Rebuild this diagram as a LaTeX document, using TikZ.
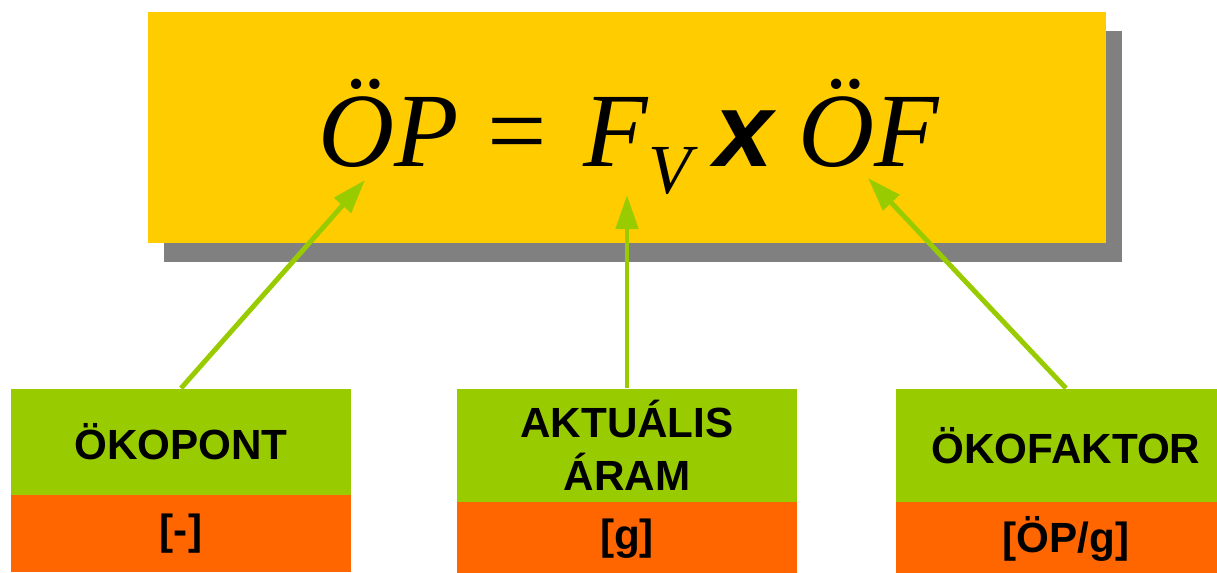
\documentclass[tikz,border=0pt]{standalone}
\usepackage{fontspec}
\setmainfont{Liberation Sans}
\newfontfamily\eqfont{Liberation Serif}
\usetikzlibrary{arrows.meta,positioning}
\definecolor{ecoyellow}{HTML}{FFCC00}
\definecolor{ecogreen}{HTML}{99CC00}
\definecolor{ecoorange}{HTML}{FF6600}
\definecolor{ecoshadow}{HTML}{808080}

\begin{document}
\begin{tikzpicture}[
x=0.01cm,
y=-0.01cm,
every node/.style={inner sep=0pt},
formulabox/.style={rectangle,fill=ecoyellow,minimum width=9.58cm,minimum height=2.31cm},
eqsym/.style={anchor=base west,font=\eqfont\itshape\fontsize{30}{30}\selectfont},
eqop/.style={anchor=base west,font=\eqfont\fontsize{30}{30}\selectfont},
eqtimes/.style={anchor=base west,font=\bfseries\itshape\fontsize{30}{30}\selectfont},
namebox/.style={rectangle,fill=ecogreen,align=center,minimum width=3.40cm,font=\bfseries\fontsize{12}{15}\selectfont},
unitbox/.style={rectangle,fill=ecoorange,align=center,minimum width=3.40cm,font=\bfseries\fontsize{12}{15}\selectfont},
pointer/.style={draw=ecogreen,line width=1.4pt,-{Triangle[length=0.34cm,width=0.22cm]}}
]
\useasboundingbox (0,0) rectangle (1217,573);

% formula panel with its shadow
\node[formulabox,fill=ecoshadow] (mainshadow) at (643,146.5) {};
\node[formulabox] (main) at (627,127.5) {};

\node[eqsym] (op) at (318,167) {ÖP};
\node[eqop] (eq) at (487,167) {=};
\node[eqsym] (fv) at (583,167) {F\raisebox{-0.26cm}{\fontsize{20}{20}\selectfont V}};
\node[eqtimes] (times) at (714,167) {x};
\node[eqsym] (of) at (798,167) {ÖF};

\coordinate (opTip) at (365,180);
\coordinate (fvTip) at (627,195);
\coordinate (ofTip) at (868,178);

% quantities and units
\node[namebox,minimum height=1.06cm] (pont) at (181,442) {ÖKOPONT};
\node[unitbox,minimum height=0.77cm,below=-0.01cm of pont] (pontunit) {[-]};
\node[namebox,minimum height=1.13cm] (aram) at (627,445.5) {AKTUÁLIS\\ÁRAM};
\node[unitbox,minimum height=0.72cm,below=-0.01cm of aram] (aramunit) {[g]};
\node[namebox,minimum height=1.13cm] (faktor) at (1066,445.5) {ÖKOFAKTOR};
\node[unitbox,minimum height=0.72cm,below=-0.01cm of faktor] (faktorunit) {[ÖP/g]};

\draw[pointer] (pont.north) -- (opTip);
\draw[pointer] (aram.north) -- (fvTip);
\draw[pointer] (faktor.north) -- (ofTip);
\end{tikzpicture}
\end{document}
